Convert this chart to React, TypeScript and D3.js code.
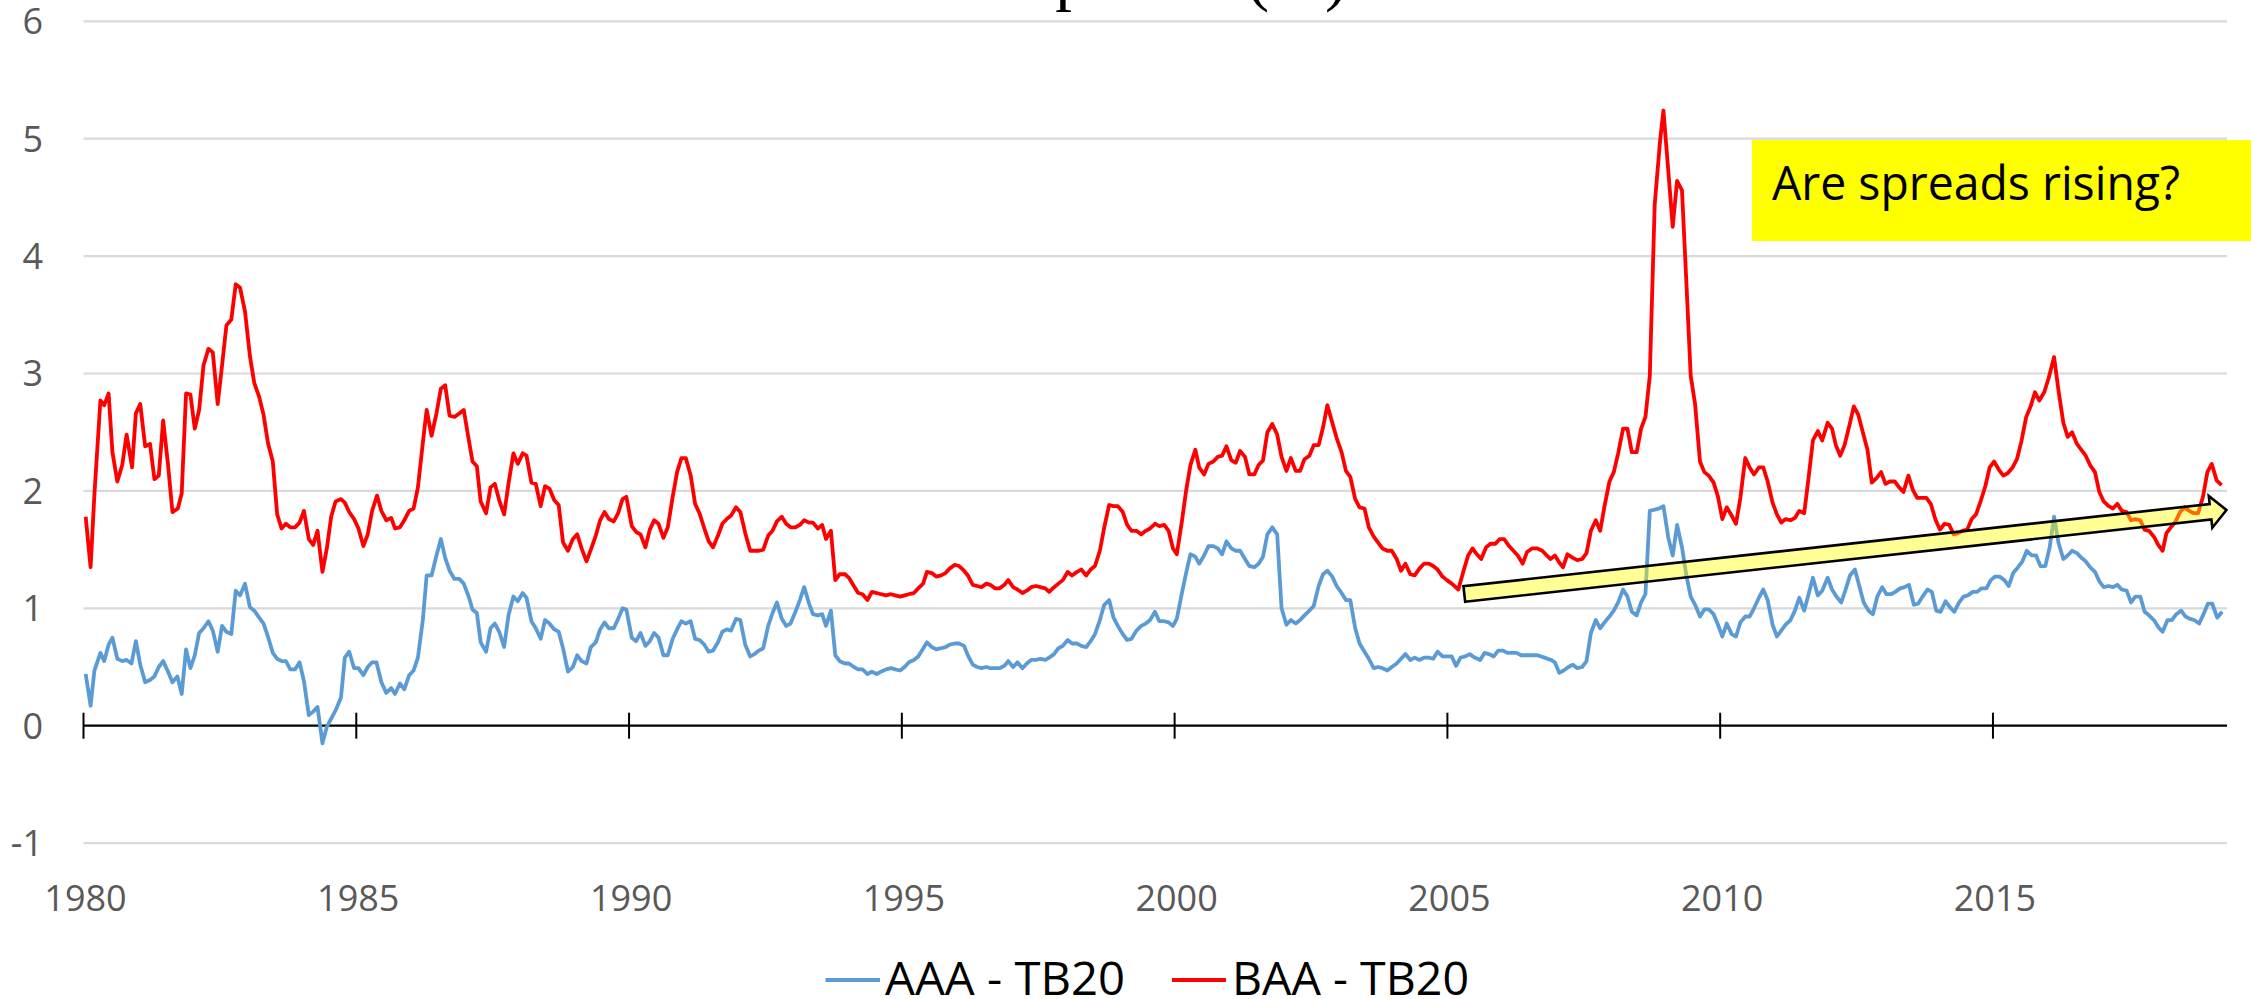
import React from "react";
import * as d3 from "d3";

// ---------- data ----------
const baaDates = [
1980.04,1980.13,1980.20,1980.31,1980.38,1980.46,1980.53,1980.62,1980.71,1980.79,1980.89,1980.96,
1981.04,1981.13,1981.22,1981.30,1981.38,1981.46,1981.55,1981.63,1981.73,1981.80,1981.88,1981.96,
1982.04,1982.12,1982.20,1982.29,1982.37,1982.46,1982.54,1982.62,1982.71,1982.79,1982.87,1982.96,
1983.05,1983.13,1983.22,1983.30,1983.38,1983.47,1983.55,1983.63,1983.71,1983.79,1983.88,1983.96,
1984.04,1984.13,1984.21,1984.29,1984.38,1984.46,1984.54,1984.62,1984.72,1984.79,1984.87,1984.96,
1985.04,1985.13,1985.21,1985.29,1985.38,1985.46,1985.55,1985.64,1985.71,1985.80,1985.88,1985.97,
1986.05,1986.13,1986.22,1986.29,1986.38,1986.47,1986.55,1986.63,1986.71,1986.80,1986.89,1986.97,
1987.06,1987.13,1987.21,1987.28,1987.38,1987.46,1987.54,1987.62,1987.71,1987.79,1987.88,1987.96,
1988.05,1988.12,1988.21,1988.29,1988.38,1988.46,1988.54,1988.63,1988.71,1988.79,1988.88,1988.97,
1989.05,1989.13,1989.22,1989.30,1989.39,1989.47,1989.55,1989.63,1989.72,1989.80,1989.88,1989.95,
1990.05,1990.13,1990.21,1990.30,1990.38,1990.46,1990.54,1990.63,1990.71,1990.80,1990.88,1990.96,
1991.04,1991.13,1991.21,1991.29,1991.38,1991.46,1991.54,1991.63,1991.71,1991.79,1991.87,1991.96,
1992.04,1992.13,1992.22,1992.30,1992.38,1992.46,1992.55,1992.63,1992.71,1992.80,1992.88,1992.96,
1993.05,1993.13,1993.21,1993.30,1993.37,1993.46,1993.54,1993.61,1993.70,1993.78,1993.86,1993.96,
1994.03,1994.12,1994.20,1994.28,1994.37,1994.45,1994.54,1994.62,1994.71,1994.80,1994.88,1994.97,
1995.05,1995.13,1995.22,1995.30,1995.39,1995.46,1995.55,1995.63,1995.72,1995.80,1995.88,1995.97,
1996.05,1996.14,1996.21,1996.30,1996.38,1996.46,1996.55,1996.62,1996.71,1996.79,1996.88,1996.95,
1997.04,1997.12,1997.21,1997.29,1997.37,1997.46,1997.54,1997.63,1997.70,1997.79,1997.87,1997.95,
1998.04,1998.12,1998.21,1998.29,1998.38,1998.46,1998.54,1998.63,1998.71,1998.80,1998.88,1998.96,
1999.05,1999.13,1999.21,1999.30,1999.39,1999.47,1999.55,1999.64,1999.72,1999.81,1999.89,1999.97,
2000.04,2000.13,2000.21,2000.29,2000.38,2000.45,2000.54,2000.62,2000.71,2000.79,2000.87,2000.95,
2001.04,2001.12,2001.20,2001.29,2001.37,2001.46,2001.54,2001.62,2001.70,2001.79,2001.88,2001.96,
2002.05,2002.13,2002.22,2002.30,2002.38,2002.47,2002.55,2002.64,2002.72,2002.80,2002.89,2002.97,
2003.06,2003.14,2003.22,2003.31,2003.39,2003.48,2003.56,2003.65,2003.73,2003.81,2003.90,2003.98,
2004.07,2004.15,2004.23,2004.32,2004.40,2004.49,2004.57,2004.66,2004.74,2004.82,2004.91,2004.99,
2005.08,2005.20,2005.29,2005.38,2005.46,2005.54,2005.62,2005.71,2005.79,2005.88,2005.96,
2006.04,2006.13,2006.21,2006.29,2006.38,2006.46,2006.55,2006.65,2006.74,2006.82,2006.89,2006.97,
2007.05,2007.12,2007.20,2007.30,2007.38,2007.47,2007.55,2007.63,2007.72,2007.80,2007.88,2007.97,
2008.05,2008.13,2008.22,2008.30,2008.38,2008.47,2008.55,2008.63,2008.71,2008.80,2008.90,2008.96,
2009.05,2009.13,2009.21,2009.30,2009.38,2009.46,2009.54,2009.63,2009.71,2009.79,2009.88,2009.96,
2010.04,2010.12,2010.21,2010.29,2010.37,2010.46,2010.54,2010.62,2010.71,2010.79,2010.87,2010.96,
2011.04,2011.12,2011.20,2011.29,2011.37,2011.45,2011.54,2011.62,2011.70,2011.79,2011.87,2011.97,
2012.05,2012.12,2012.20,2012.28,2012.37,2012.45,2012.53,2012.62,2012.70,2012.78,2012.87,2012.95,
2013.03,2013.11,2013.20,2013.28,2013.36,2013.45,2013.53,2013.61,2013.70,2013.78,2013.86,2013.95,
2014.03,2014.11,2014.20,2014.28,2014.36,2014.44,2014.53,2014.61,2014.69,2014.78,2014.86,2014.94,
2015.02,2015.11,2015.19,2015.27,2015.36,2015.44,2015.52,2015.61,2015.69,2015.77,2015.85,2015.94,
2016.02,2016.12,2016.20,2016.29,2016.37,2016.45,2016.54,2016.62,2016.70,2016.78,2016.87,2016.95,
2017.03,2017.12,2017.20,2017.28,2017.36,2017.45,2017.53,2017.61,2017.70,2017.78,2017.86,2017.95,
2018.03,2018.11,2018.18,2018.26,2018.35,2018.43,2018.51,2018.60,2018.68,2018.76,2018.85,2018.93,
2019.01,2019.10,2019.19,
];
const baaValues = [
1.78,1.35,1.97,2.77,2.73,2.83,2.33,2.08,2.22,2.48,2.20,2.66,
2.74,2.38,2.40,2.10,2.13,2.60,2.22,1.82,1.85,1.98,2.83,2.82,
2.53,2.69,3.07,3.21,3.18,2.74,3.07,3.41,3.46,3.76,3.73,3.53,
3.15,2.92,2.80,2.65,2.41,2.25,1.80,1.68,1.72,1.69,1.69,1.73,
1.83,1.59,1.54,1.66,1.31,1.51,1.78,1.91,1.93,1.90,1.82,1.76,
1.68,1.53,1.63,1.83,1.96,1.83,1.75,1.77,1.68,1.69,1.75,1.83,
1.85,2.03,2.41,2.69,2.47,2.66,2.87,2.90,2.64,2.63,2.66,2.69,
2.44,2.25,2.21,1.91,1.81,2.03,2.06,1.92,1.80,2.06,2.32,2.23,
2.32,2.30,2.07,2.06,1.87,2.04,2.02,1.92,1.88,1.56,1.49,1.59,
1.63,1.51,1.40,1.50,1.62,1.75,1.82,1.76,1.74,1.81,1.93,1.95,
1.70,1.65,1.63,1.52,1.67,1.75,1.72,1.60,1.69,1.95,2.16,2.28,
2.28,2.13,1.89,1.81,1.68,1.57,1.52,1.62,1.72,1.76,1.79,1.86,
1.82,1.64,1.49,1.49,1.49,1.50,1.62,1.66,1.74,1.78,1.72,1.69,
1.69,1.71,1.75,1.73,1.73,1.68,1.71,1.59,1.66,1.24,1.29,1.29,
1.26,1.19,1.13,1.12,1.07,1.14,1.13,1.12,1.11,1.12,1.11,1.10,
1.11,1.12,1.13,1.17,1.21,1.31,1.30,1.27,1.28,1.30,1.34,1.37,
1.36,1.32,1.28,1.20,1.19,1.18,1.21,1.20,1.17,1.17,1.20,1.24,
1.18,1.16,1.13,1.15,1.18,1.19,1.18,1.17,1.14,1.18,1.21,1.24,
1.31,1.28,1.31,1.33,1.28,1.33,1.36,1.49,1.69,1.88,1.87,1.87,
1.82,1.71,1.66,1.66,1.63,1.66,1.68,1.72,1.70,1.71,1.66,1.51,
1.46,1.73,2.00,2.22,2.35,2.20,2.14,2.23,2.25,2.29,2.30,2.38,
2.26,2.24,2.34,2.29,2.14,2.14,2.22,2.26,2.50,2.57,2.48,2.29,
2.17,2.28,2.17,2.17,2.27,2.30,2.39,2.39,2.54,2.73,2.58,2.45,
2.33,2.17,2.12,1.93,1.86,1.85,1.69,1.61,1.56,1.51,1.49,1.49,
1.42,1.32,1.38,1.29,1.28,1.34,1.38,1.38,1.36,1.33,1.27,1.24,
1.21,1.16,1.31,1.45,1.51,1.46,1.42,1.52,1.55,1.55,1.59,
1.59,1.53,1.49,1.45,1.38,1.48,1.51,1.51,1.49,1.45,1.42,1.45,
1.39,1.35,1.46,1.43,1.41,1.42,1.47,1.66,1.75,1.66,1.87,2.08,
2.16,2.32,2.53,2.53,2.33,2.33,2.53,2.63,2.98,4.44,4.99,5.24,
4.72,4.25,4.64,4.56,3.78,2.98,2.74,2.25,2.16,2.13,2.07,1.95,
1.76,1.86,1.79,1.72,1.94,2.28,2.20,2.14,2.20,2.20,2.08,1.90,
1.80,1.73,1.76,1.75,1.77,1.83,1.81,2.11,2.43,2.51,2.43,2.58,
2.53,2.39,2.30,2.39,2.56,2.72,2.65,2.49,2.35,2.07,2.11,2.16,
2.06,2.08,2.08,2.03,1.99,2.13,2.01,1.94,1.94,1.94,1.89,1.75,
1.67,1.72,1.71,1.63,1.64,1.66,1.67,1.76,1.80,1.92,2.04,2.20,
2.25,2.18,2.13,2.15,2.20,2.27,2.42,2.63,2.72,2.84,2.77,2.84,
2.96,3.14,2.86,2.58,2.46,2.50,2.40,2.35,2.30,2.22,2.16,1.99,
1.91,1.87,1.85,1.89,1.83,1.82,1.75,1.76,1.75,1.67,1.66,1.61,
1.54,1.49,1.64,1.69,1.74,1.82,1.86,1.83,1.81,1.81,1.95,2.16,
2.23,2.09,2.05,
];

const aaaDates = [
1980.04,1980.13,1980.20,1980.31,1980.38,1980.46,1980.53,1980.62,1980.71,1980.79,1980.88,1980.96,
1981.04,1981.13,1981.22,1981.30,1981.38,1981.46,1981.55,1981.63,1981.72,1981.80,1981.88,1981.96,
1982.04,1982.12,1982.20,1982.29,1982.37,1982.46,1982.54,1982.62,1982.71,1982.79,1982.87,1982.96,
1983.05,1983.13,1983.22,1983.30,1983.38,1983.47,1983.55,1983.63,1983.71,1983.79,1983.88,1983.96,
1984.04,1984.13,1984.21,1984.29,1984.38,1984.46,1984.54,1984.63,1984.72,1984.79,1984.87,1984.96,
1985.04,1985.13,1985.21,1985.29,1985.37,1985.46,1985.55,1985.64,1985.71,1985.80,1985.88,1985.97,
1986.05,1986.13,1986.22,1986.29,1986.38,1986.47,1986.55,1986.63,1986.71,1986.80,1986.89,1986.97,
1987.06,1987.13,1987.21,1987.28,1987.38,1987.46,1987.54,1987.62,1987.71,1987.79,1987.88,1987.96,
1988.05,1988.12,1988.21,1988.29,1988.38,1988.46,1988.54,1988.63,1988.71,1988.79,1988.88,1988.97,
1989.05,1989.13,1989.22,1989.30,1989.39,1989.47,1989.55,1989.63,1989.72,1989.80,1989.88,1989.95,
1990.05,1990.13,1990.21,1990.30,1990.38,1990.46,1990.54,1990.63,1990.71,1990.80,1990.88,1990.96,
1991.04,1991.13,1991.21,1991.29,1991.38,1991.46,1991.54,1991.63,1991.71,1991.79,1991.87,1991.96,
1992.04,1992.13,1992.22,1992.30,1992.38,1992.46,1992.55,1992.63,1992.71,1992.80,1992.88,1992.96,
1993.05,1993.13,1993.21,1993.30,1993.37,1993.46,1993.54,1993.61,1993.70,1993.78,1993.86,1993.96,
1994.03,1994.12,1994.20,1994.28,1994.37,1994.45,1994.54,1994.62,1994.71,1994.80,1994.88,1994.97,
1995.05,1995.13,1995.22,1995.30,1995.38,1995.46,1995.55,1995.63,1995.72,1995.80,1995.88,1995.97,
1996.05,1996.14,1996.21,1996.30,1996.38,1996.46,1996.55,1996.62,1996.71,1996.79,1996.88,1996.95,
1997.04,1997.12,1997.21,1997.29,1997.37,1997.46,1997.54,1997.63,1997.70,1997.79,1997.87,1997.95,
1998.04,1998.12,1998.21,1998.29,1998.38,1998.46,1998.54,1998.63,1998.71,1998.80,1998.88,1998.96,
1999.05,1999.13,1999.21,1999.30,1999.39,1999.47,1999.55,1999.64,1999.72,1999.81,1999.89,1999.97,
2000.04,2000.13,2000.21,2000.29,2000.38,2000.45,2000.54,2000.62,2000.71,2000.79,2000.87,2000.95,
2001.04,2001.12,2001.20,2001.29,2001.37,2001.46,2001.54,2001.62,2001.70,2001.79,2001.88,2001.96,
2002.05,2002.13,2002.22,2002.30,2002.38,2002.47,2002.55,2002.64,2002.72,2002.80,2002.89,2002.97,
2003.06,2003.14,2003.22,2003.31,2003.39,2003.48,2003.56,2003.65,2003.73,2003.81,2003.90,2003.98,
2004.07,2004.15,2004.23,2004.32,2004.40,2004.49,2004.57,2004.66,2004.74,2004.82,2004.91,2004.99,
2005.08,2005.16,2005.24,2005.33,2005.41,2005.50,2005.60,2005.68,2005.76,2005.85,2005.93,
2006.02,2006.10,2006.18,2006.27,2006.35,2006.44,2006.52,2006.65,2006.78,2006.90,2006.97,
2007.05,2007.13,2007.22,2007.30,2007.38,2007.47,2007.55,2007.63,2007.72,2007.80,2007.88,2007.97,
2008.05,2008.13,2008.22,2008.30,2008.38,2008.47,2008.55,2008.63,2008.71,2008.80,2008.88,2008.96,
2009.05,2009.13,2009.21,2009.30,2009.38,2009.46,2009.54,2009.63,2009.71,2009.79,2009.88,2009.96,
2010.04,2010.12,2010.21,2010.29,2010.37,2010.46,2010.54,2010.62,2010.71,2010.79,2010.87,2010.96,
2011.04,2011.12,2011.20,2011.29,2011.37,2011.45,2011.54,2011.62,2011.70,2011.79,2011.87,2011.97,
2012.05,2012.13,2012.22,2012.30,2012.38,2012.47,2012.55,2012.63,2012.72,2012.80,2012.88,2012.97,
2013.05,2013.13,2013.21,2013.30,2013.38,2013.46,2013.55,2013.63,2013.71,2013.80,2013.88,2013.96,
2014.04,2014.13,2014.21,2014.29,2014.38,2014.46,2014.54,2014.63,2014.71,2014.79,2014.88,2014.96,
2015.04,2015.12,2015.21,2015.29,2015.37,2015.46,2015.54,2015.62,2015.71,2015.79,2015.87,2015.96,
2016.04,2016.12,2016.20,2016.29,2016.37,2016.45,2016.54,2016.62,2016.70,2016.78,2016.87,2016.95,
2017.03,2017.12,2017.20,2017.28,2017.36,2017.45,2017.53,2017.61,2017.70,2017.78,2017.86,2017.95,
2018.03,2018.11,2018.20,2018.28,2018.36,2018.45,2018.53,2018.61,2018.69,2018.78,2018.86,2018.94,
2019.02,2019.11,2019.20,
];
const aaaValues = [
0.44,0.17,0.47,0.62,0.55,0.69,0.75,0.57,0.55,0.56,0.53,0.72,
0.52,0.37,0.39,0.42,0.50,0.55,0.46,0.37,0.42,0.27,0.65,0.49,
0.60,0.79,0.83,0.89,0.81,0.63,0.85,0.80,0.78,1.15,1.11,1.21,
1.01,0.98,0.92,0.87,0.76,0.62,0.57,0.55,0.55,0.48,0.48,0.54,
0.38,0.09,0.12,0.16,-0.15,-0.01,0.06,0.14,0.24,0.58,0.63,0.49,
0.49,0.43,0.50,0.54,0.54,0.37,0.28,0.32,0.27,0.36,0.31,0.43,
0.47,0.58,0.90,1.28,1.28,1.45,1.59,1.43,1.32,1.25,1.25,1.21,
1.10,0.99,0.96,0.71,0.63,0.83,0.87,0.80,0.67,0.94,1.10,1.06,
1.13,1.09,0.89,0.83,0.74,0.90,0.87,0.82,0.80,0.66,0.46,0.50,
0.60,0.55,0.53,0.67,0.71,0.82,0.88,0.83,0.83,0.91,1.00,0.99,
0.75,0.72,0.79,0.68,0.72,0.79,0.75,0.60,0.60,0.74,0.82,0.89,
0.87,0.89,0.74,0.73,0.69,0.63,0.64,0.71,0.80,0.82,0.81,0.91,
0.90,0.69,0.59,0.61,0.64,0.66,0.85,0.96,1.05,0.91,0.85,0.87,
0.97,1.07,1.18,1.04,0.95,0.94,0.95,0.85,0.98,0.60,0.55,0.53,
0.53,0.50,0.48,0.48,0.44,0.46,0.44,0.46,0.48,0.49,0.48,0.47,
0.50,0.54,0.56,0.59,0.65,0.71,0.67,0.65,0.66,0.67,0.69,0.70,
0.70,0.68,0.60,0.52,0.50,0.49,0.50,0.49,0.49,0.49,0.51,0.55,
0.50,0.54,0.49,0.53,0.56,0.56,0.57,0.56,0.58,0.61,0.66,0.68,
0.73,0.70,0.70,0.68,0.67,0.72,0.78,0.90,1.03,1.07,0.92,0.85,
0.78,0.73,0.74,0.81,0.85,0.87,0.90,0.97,0.89,0.89,0.88,0.85,
0.91,1.12,1.30,1.46,1.44,1.38,1.45,1.53,1.53,1.51,1.46,1.57,
1.51,1.49,1.49,1.42,1.36,1.35,1.38,1.44,1.63,1.69,1.63,1.00,
0.86,0.90,0.87,0.90,0.94,0.98,1.02,1.19,1.29,1.32,1.27,1.19,
1.13,1.07,1.07,0.83,0.70,0.63,0.57,0.49,0.50,0.49,0.47,0.50,
0.53,0.57,0.61,0.56,0.58,0.56,0.58,0.58,0.57,0.63,0.59,0.59,
0.59,0.51,0.58,0.59,0.61,0.58,0.56,0.62,0.61,0.59,0.64,
0.64,0.62,0.62,0.62,0.60,0.60,0.60,0.60,0.58,0.56,0.54,
0.45,0.47,0.50,0.52,0.49,0.50,0.55,0.79,0.90,0.83,0.88,0.93,
0.98,1.05,1.16,1.10,0.97,0.94,1.05,1.12,1.83,1.84,1.85,1.87,
1.60,1.45,1.71,1.52,1.28,1.10,1.03,0.93,0.99,0.99,0.95,0.86,
0.76,0.87,0.78,0.76,0.88,0.93,0.93,1.00,1.09,1.16,1.07,0.86,
0.76,0.81,0.86,0.90,0.98,1.09,0.98,1.12,1.26,1.11,1.15,1.26,
1.16,1.10,1.05,1.16,1.28,1.33,1.19,1.05,0.98,0.95,1.10,1.18,
1.12,1.12,1.14,1.17,1.18,1.20,1.03,1.04,1.10,1.16,1.14,0.98,
0.97,1.06,1.01,0.97,1.05,1.10,1.11,1.14,1.14,1.17,1.17,1.24,
1.27,1.27,1.24,1.19,1.30,1.35,1.40,1.49,1.45,1.45,1.36,1.36,
1.52,1.78,1.56,1.42,1.45,1.49,1.47,1.43,1.40,1.35,1.31,1.23,
1.18,1.19,1.18,1.20,1.16,1.15,1.05,1.10,1.10,0.97,0.94,0.90,
0.84,0.80,0.90,0.90,0.95,0.98,0.93,0.91,0.90,0.87,0.95,1.04,
1.04,0.92,0.97,
];

const yTicks = [-1, 0, 1, 2, 3, 4, 5, 6];
const xTicks = [1980, 1985, 1990, 1995, 2000, 2005, 2010, 2015];
const seriesNames = ["AAA - TB20", "BAA - TB20"];
const seriesColors = ["#5B9BD5", "#FF0000"];
const titleText = "Bond Spreads (%)";
const noteText = "Are spreads rising?";
// trend arrow annotation, in data units: [year, spread]
const arrowStart = [2005.31, 1.122];
const arrowEnd = [2019.28, 1.837];

const W = 2251;
const H = 999;

export default function App() {
  const x = d3.scaleLinear().domain([1980, 2019.29]).range([83.5, 2227]);
  const y = d3.scaleLinear().domain([-1, 6]).range([843.1, 21.3]);

  const line = d3
    .line<[number, number]>()
    .x((d) => x(d[0]))
    .y((d) => y(d[1]));

  const aaa: [number, number][] = aaaDates.map((d, i) => [d, aaaValues[i]]);
  const baa: [number, number][] = baaDates.map((d, i) => [d, baaValues[i]]);

  // arrow polygon
  const x0 = x(arrowStart[0]), y0 = y(arrowStart[1]);
  const x1 = x(arrowEnd[0]), y1 = y(arrowEnd[1]);
  const len = Math.hypot(x1 - x0, y1 - y0);
  const ux = (x1 - x0) / len, uy = (y1 - y0) / len;
  const nx = -uy, ny = ux;
  const shaftHalf = 7.8, headHalf = 16, headLen = 16;
  const bx = x1 - ux * headLen, by = y1 - uy * headLen;
  const pts: [number, number][] = [
    [x0 + nx * shaftHalf, y0 + ny * shaftHalf],
    [bx + nx * shaftHalf, by + ny * shaftHalf],
    [bx + nx * headHalf, by + ny * headHalf],
    [x1, y1],
    [bx - nx * headHalf, by - ny * headHalf],
    [bx - nx * shaftHalf, by - ny * shaftHalf],
    [x0 - nx * shaftHalf, y0 - ny * shaftHalf],
  ];
  const arrowPath = "M" + pts.map((p) => p.join(",")).join("L") + "Z";

  const [xMin, xMax] = x.range();
  const labelFont = "'Open Sans', 'DejaVu Sans', sans-serif";

  return (
    <svg
      width={W}
      height={H}
      viewBox={`0 0 ${W} ${H}`}
      style={{ position: "absolute", left: 0, top: 0, background: "#fff" }}
    >
      <rect x={0} y={0} width={W} height={H} fill="#fff" />
      {/* title, mostly cut off at the top */}
      <text
        x={856}
        y={-2}
        fontFamily="'Liberation Serif', 'Times New Roman', serif"
        fontSize={67}
        fill="#000"
      >
        {titleText}
      </text>

      {/* gridlines */}
      {yTicks
        .filter((t) => t !== 0)
        .map((t) => (
          <line
            key={"g" + t}
            x1={xMin}
            x2={xMax}
            y1={y(t)}
            y2={y(t)}
            stroke="#D9D9D9"
            strokeWidth={2.2}
          />
        ))}

      {/* y labels */}
      {yTicks.map((t) => (
        <text
          key={"yl" + t}
          x={43}
          y={y(t) + 12.8}
          textAnchor="end"
          fontFamily={labelFont}
          fontSize={36}
          fill="#595959"
        >
          {t}
        </text>
      ))}

      {/* x axis at zero */}
      <line x1={xMin} x2={xMax} y1={y(0)} y2={y(0)} stroke="#000" strokeWidth={2.2} />
      {xTicks.map((t) => (
        <line
          key={"xt" + t}
          x1={x(t)}
          x2={x(t)}
          y1={y(0) - 13}
          y2={y(0) + 13}
          stroke="#000"
          strokeWidth={2}
        />
      ))}
      {xTicks.map((t) => (
        <text
          key={"xl" + t}
          x={x(t) + 2}
          y={911}
          textAnchor="middle"
          fontFamily={labelFont}
          fontSize={36}
          fill="#595959"
        >
          {t}
        </text>
      ))}

      {/* series */}
      <path d={line(aaa) || ""} fill="none" stroke={seriesColors[0]} strokeWidth={3.8} strokeLinejoin="round" />
      <path d={line(baa) || ""} fill="none" stroke={seriesColors[1]} strokeWidth={3.8} strokeLinejoin="round" />

      {/* trend arrow */}
      <path d={arrowPath} fill="#FFFF00" fillOpacity={0.42} stroke="none" />
      <path d={arrowPath} fill="none" stroke="#000" strokeWidth={2.6} strokeLinejoin="miter" />

      {/* note box */}
      <rect x={1752} y={140} width={W - 1752} height={101} fill="#FFFF00" />
      <text
        x={1772}
        y={200}
        fontFamily={labelFont}
        fontSize={47}
        fill="#000"
        textLength={408}
        lengthAdjust="spacingAndGlyphs"
      >
        {noteText}
      </text>

      {/* legend */}
      <line x1={825.5} x2={880} y1={980} y2={980} stroke={seriesColors[0]} strokeWidth={4} />
      <text x={885} y={995} fontFamily={labelFont} fontSize={46} fill="#000" textLength={240} lengthAdjust="spacingAndGlyphs">
        {seriesNames[0]}
      </text>
      <line x1={1172} x2={1226} y1={980} y2={980} stroke={seriesColors[1]} strokeWidth={4} />
      <text x={1232} y={995} fontFamily={labelFont} fontSize={46} fill="#000" textLength={237} lengthAdjust="spacingAndGlyphs">
        {seriesNames[1]}
      </text>
    </svg>
  );
}
